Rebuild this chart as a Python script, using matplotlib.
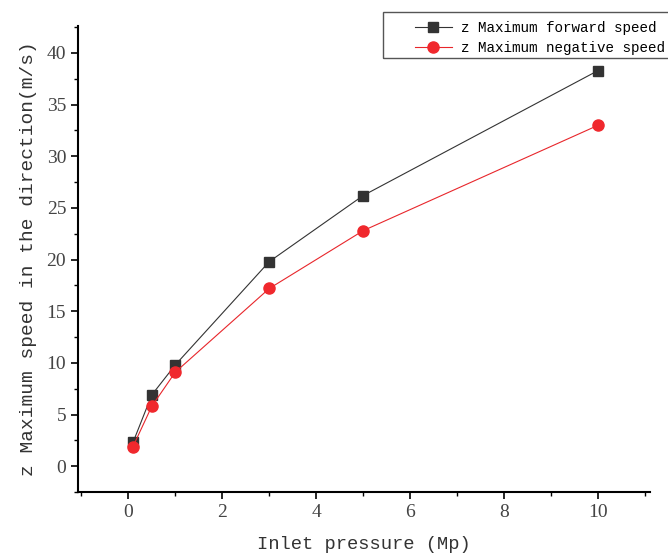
import matplotlib
matplotlib.use("Agg")
import matplotlib.pyplot as plt
from matplotlib.ticker import MultipleLocator
from matplotlib.patches import Rectangle

pressure = [0.1, 0.5, 1, 3, 5, 10]
forward_speed = [2.3, 6.9, 9.8, 19.8, 26.2, 38.3]
negative_speed = [1.9, 5.8, 9.1, 17.2, 22.8, 33.0]

W, H = 668, 560
fig = plt.figure(figsize=(6.68, 5.6), dpi=100)
ax = fig.add_axes([0.1168, 0.1214, 0.856, 0.832])

ax.plot(pressure, forward_speed, color="#333333", lw=0.8, marker="s", ms=7,
        mfc="#333333", mec="#333333", label="z Maximum forward speed")
ax.plot(pressure, negative_speed, color="#e8262b", lw=0.8, marker="o", ms=8,
        mfc="#f0282d", mec="#f0282d", label="z Maximum negative speed")

ax.set_xlim(-1.07, 11.1)
ax.set_ylim(-2.5, 42.6)
ax.xaxis.set_major_locator(MultipleLocator(2))
ax.xaxis.set_minor_locator(MultipleLocator(1))
ax.yaxis.set_major_locator(MultipleLocator(5))
ax.yaxis.set_minor_locator(MultipleLocator(2.5))
for s in ["top", "right"]:
    ax.spines[s].set_visible(False)
for s in ["left", "bottom"]:
    ax.spines[s].set_linewidth(1.5)
ax.tick_params(which="major", direction="out", length=5, width=1.2, labelsize=14, colors="black")
ax.tick_params(which="minor", direction="out", length=3, width=1.0)
for lab in ax.get_xticklabels() + ax.get_yticklabels():
    lab.set_fontfamily("Liberation Serif")
    lab.set_color("#444444")

ax.set_xlabel("Inlet pressure (Mp)", fontsize=13.5, family="Liberation Mono", color="#333333", labelpad=11)
ax.set_ylabel("z Maximum speed in the direction(m/s)", fontsize=14, family="Liberation Mono", color="#333333", labelpad=7)

# legend frame (drawn separately, extends beyond contents on the left)
fig.patches.append(Rectangle((383 / W, 1 - 58 / H), (W - 383) / W + 0.01, 46 / H,
                             transform=fig.transFigure, fill=False,
                             edgecolor="#555555", lw=1.0))
leg = fig.legend(loc="upper right", bbox_to_anchor=(1.012, 0.983),
                 prop={"family": "Liberation Mono", "size": 10.3},
                 frameon=False, handlelength=2.6, handletextpad=0.6,
                 borderpad=0.3, labelspacing=0.45)

fig.savefig("out.png", dpi=100)
